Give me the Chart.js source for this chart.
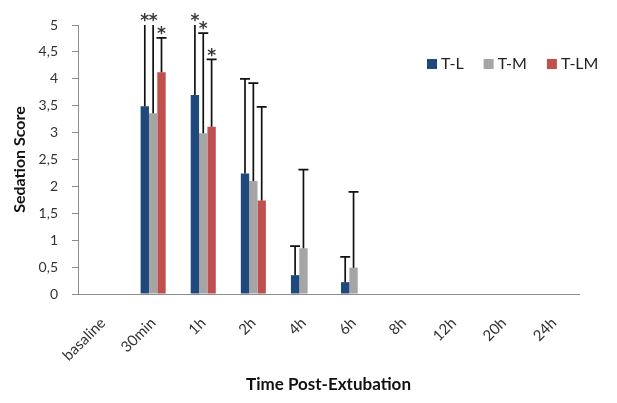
<!DOCTYPE html>
<html><head><meta charset="utf-8">
<script src="https://cdn.jsdelivr.net/npm/chart.js@4.4.0/dist/chart.umd.min.js"></script>
<style>html,body{margin:0;padding:0;background:#fff;}canvas{display:block;}</style>
</head><body>
<canvas id="c" width="617" height="403"></canvas>
<script>
// ---- data ----
const categories = ['basaline','30min','1h','2h','4h','6h','8h','12h','20h','24h'];
const seriesNames = ['T-L','T-M','T-LM'];
const tlMean  = [null, 3.49, 3.70, 2.24, 0.35, 0.22, null, null, null, null];
const tmMean  = [null, 3.36, 2.99, 2.10, 0.85, 0.49, null, null, null, null];
const tlmMean = [null, 4.12, 3.11, 1.74, null, null, null, null, null, null];
const tlSD    = [null, 1.70, 1.50, 1.76, 0.54, 0.47, null, null, null, null];
const tmSD    = [null, 1.84, 1.86, 1.82, 1.46, 1.41, null, null, null, null];
const tlmSD   = [null, 0.64, 1.25, 1.74, null, null, null, null, null, null];
const tlSig   = ['', '*', '*', '', '', '', '', '', '', ''];
const tmSig   = ['', '*', '*', '', '', '', '', '', '', ''];
const tlmSig  = ['', '*', '*', '', '', '', '', '', '', ''];
const yTickLabels = ['0','0,5','1','1,5','2','2,5','3','3,5','4','4,5','5'];
const colors = ['#1F497D','#A5A5A5','#C0504D'];
const FONT = 'Lato';

const errorBarPlugin = {
  id: 'errorBars',
  afterDatasetsDraw(chart) {
    const ctx = chart.ctx, ys = chart.scales.y, area = chart.chartArea;
    chart.data.datasets.forEach((ds, di) => {
      const meta = chart.getDatasetMeta(di);
      meta.data.forEach((bar, i) => {
        const v = ds.data[i], sd = ds.sd[i];
        if (v == null || sd == null) return;
        let yt = ys.getPixelForValue(v + sd);
        const clipped = yt < area.top;
        if (clipped) yt = area.top;
        ctx.save();
        ctx.strokeStyle = '#111';
        ctx.lineWidth = 1.7;
        ctx.beginPath();
        ctx.moveTo(bar.x, bar.y);
        ctx.lineTo(bar.x, yt);
        if (!clipped) { ctx.moveTo(bar.x - 5, yt); ctx.lineTo(bar.x + 5, yt); }
        ctx.stroke();
        if (ds.sig[i]) {
          const fs = 17;
          ctx.fillStyle = '#3a3a3a';
          ctx.font = 'bold ' + fs + 'px "DejaVu Sans"';
          ctx.textAlign = 'center';
          ctx.textBaseline = 'alphabetic';
          ctx.fillText(ds.sig[i], bar.x, yt - 9 + fs * 0.6);
        }
        ctx.restore();
      });
    });
  }
};

const legendPlugin = {
  id: 'customLegend',
  afterDraw(chart) {
    const ctx = chart.ctx;
    let x = 427; const yc = 64;
    ctx.save();
    ctx.font = '16px ' + FONT;
    ctx.textBaseline = 'middle';
    ctx.textAlign = 'left';
    chart.data.datasets.forEach((ds) => {
      ctx.fillStyle = ds.backgroundColor;
      ctx.fillRect(x, yc - 5, 10, 10);
      ctx.fillStyle = '#222';
      ctx.fillText(ds.label, x + 14, yc);
      x += 14 + ctx.measureText(ds.label).width + 20;
    });
    ctx.restore();
  }
};

const sds = [tlSD, tmSD, tlmSD];
const sigs = [tlSig, tmSig, tlmSig];
const means = [tlMean, tmMean, tlmMean];

new Chart(document.getElementById('c'), {
  type: 'bar',
  data: {
    labels: categories,
    datasets: seriesNames.map((n, k) => ({
      label: n, data: means[k], sd: sds[k], sig: sigs[k],
      backgroundColor: colors[k], borderWidth: 0,
      categoryPercentage: 0.5, barPercentage: 1.0
    }))
  },
  options: {
    responsive: false,
    animation: false,
    layout: { padding: { left: 0, right: 38, top: 25, bottom: 0 } },
    plugins: { legend: { display: false }, tooltip: { enabled: false } },
    scales: {
      x: {
        grid: { display: false },
        border: { display: true, color: '#8c8c8c', width: 1 },
        ticks: { color: '#333', font: { family: FONT, size: 15 }, minRotation: 45, maxRotation: 45, padding: 12, autoSkip: false },
        title: { display: true, text: 'Time Post-Extubation', color: '#111', font: { family: FONT, size: 17, weight: 'bold' }, padding: { top: 0, bottom: 8 } },
        afterFit(s) { s.height = 109; }
      },
      y: {
        min: 0, max: 5,
        grid: { display: true, drawOnChartArea: false, drawTicks: true, tickLength: 6, color: '#8c8c8c' },
        border: { display: true, color: '#8c8c8c', width: 1 },
        ticks: { stepSize: 0.5, color: '#333', font: { family: FONT, size: 14 }, padding: 14,
          callback: (v, i) => yTickLabels[i] },
        title: { display: true, text: 'Sedation Score', color: '#111', font: { family: FONT, size: 16, weight: 'bold' }, padding: { top: 10, bottom: 0 } },
        afterFit(s) { s.width = 78; }
      }
    }
  },
  plugins: [errorBarPlugin, legendPlugin]
});
</script>
</body></html>
